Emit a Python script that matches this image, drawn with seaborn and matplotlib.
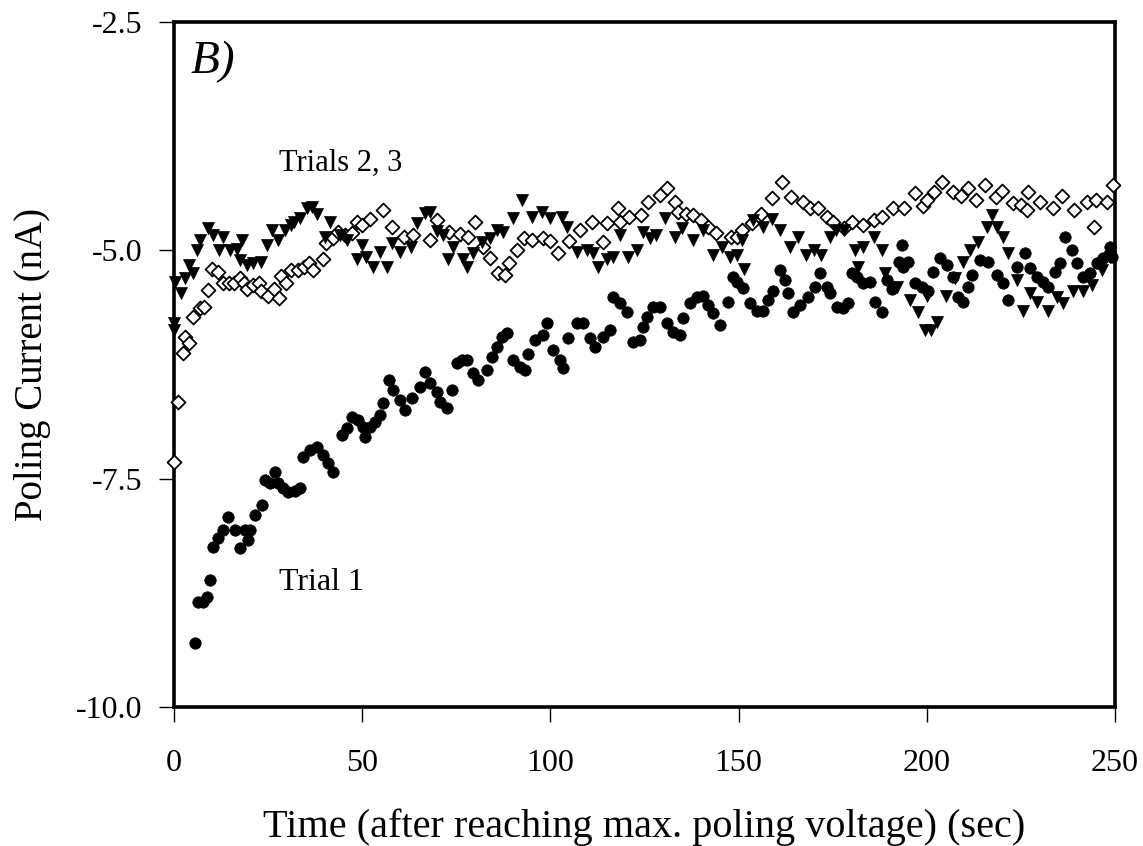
import matplotlib
matplotlib.use("Agg")
import matplotlib.pyplot as plt
import seaborn as sns
import pandas as pd

# Trial 1 (filled circles)
t1 = [5.6, 6.4, 7.8, 8.7, 9.6, 10.4, 11.8, 13.0, 14.3, 16.2, 17.6, 18.9, 19.7, 20.2, 21.5,
      23.3, 24.2, 25.5, 26.8, 27.7, 29.0, 30.3, 32.1, 33.5, 34.3, 36.1, 37.9, 39.6, 41.0,
      42.2, 44.6, 46.0, 47.3, 48.8, 50.2, 50.7, 52.0, 53.4, 54.7, 55.5, 57.0, 58.2, 60.0,
      61.4, 63.2, 65.4, 66.7, 68.0, 69.8, 70.7, 72.5, 73.9, 75.2, 76.5, 77.8, 79.4, 80.8,
      83.1, 84.5, 85.8, 87.1, 88.4, 90.0, 91.9, 93.2, 94.0, 95.9, 98.0, 99.0, 100.7, 102.5,
      103.4, 104.8, 107.0, 108.7, 110.5, 111.8, 114.0, 115.8, 116.7, 118.5, 120.3, 122.0,
      123.8, 124.6, 125.6, 127.3, 129.0, 131.0, 132.7, 134.4, 135.3, 137.0, 139.0, 140.6,
      142.0, 143.2, 145.0, 147.2, 148.5, 149.6, 151.2, 153.0, 154.9, 156.5, 157.8, 159.2,
      161.0, 162.3, 163.1, 164.5, 166.3, 168.4, 170.3, 171.6, 173.5, 174.3, 176.1, 177.8,
      179.0, 180.1, 181.4, 183.0, 185.0, 186.2, 188.0, 189.4, 190.8, 192.5, 193.4, 193.7,
      195.0, 196.9, 198.6, 200.4, 201.7, 203.5, 205.3, 207.0, 208.3, 209.6, 211.0, 212.0,
      214.1, 216.3, 218.6, 220.3, 221.7, 224.0, 226.0, 227.4, 229.2, 230.9, 232.2, 234.0,
      235.4, 236.7, 238.6, 239.9, 241.5, 243.4, 245.2, 246.8, 248.7, 249.2]
i1 = [-9.30, -8.85, -8.85, -8.80, -8.61, -8.25, -8.15, -8.06, -7.92, -8.06, -8.26, -8.06, -8.17, -8.06, -7.90,
      -7.79, -7.52, -7.55, -7.43, -7.55, -7.60, -7.65, -7.63, -7.60, -7.26, -7.19, -7.15, -7.24, -7.33,
      -7.43, -7.02, -6.95, -6.82, -6.86, -6.93, -7.04, -6.93, -6.88, -6.80, -6.67, -6.42, -6.53, -6.64,
      -6.75, -6.62, -6.50, -6.33, -6.45, -6.55, -6.66, -6.73, -6.53, -6.23, -6.20, -6.20, -6.34, -6.42,
      -6.31, -6.17, -6.06, -5.95, -5.90, -6.20, -6.28, -6.31, -6.13, -5.98, -5.93, -5.80, -6.09, -6.20,
      -6.29, -5.96, -5.80, -5.80, -5.96, -6.06, -5.95, -5.87, -5.51, -5.58, -5.68, -6.00,
      -5.98, -5.84, -5.73, -5.62, -5.62, -5.80, -5.89, -5.93, -5.74, -5.58, -5.51, -5.50,
      -5.60, -5.69, -5.82, -5.57, -5.29, -5.35, -5.41, -5.58, -5.66, -5.66, -5.54, -5.44,
      -5.22, -5.33, -5.47, -5.68, -5.60, -5.51, -5.40, -5.25, -5.40, -5.47, -5.62, -5.63,
      -5.58, -5.25, -5.29, -5.36, -5.35, -5.57, -5.68, -5.33, -5.42, -5.13, -4.94, -5.18,
      -5.13, -5.36, -5.40, -5.45, -5.24, -5.08, -5.16, -5.29, -5.51, -5.57, -5.40, -5.27,
      -5.11, -5.13, -5.27, -5.36, -5.54, -5.18, -5.03, -5.19, -5.29, -5.35, -5.40, -5.24,
      -5.14, -4.85, -5.00, -5.14, -5.29, -5.25, -5.14, -5.08, -4.96, -5.07]

# Trial 2 (filled down triangles)
t2 = [0.0, 0.0, 0.3, 2.0, 3.0, 4.0, 5.0, 6.0, 7.0, 9.0, 10.5, 12.0, 13.0, 15.0, 16.7, 17.5,
      18.0, 19.5, 21.0, 23.0, 24.7, 26.0, 27.6, 29.5, 31.0, 32.0, 33.5, 35.3, 36.6, 38.0,
      40.0, 41.5, 44.0, 46.0, 48.6, 50.0, 51.0, 53.0, 54.7, 56.5, 58.0, 60.0, 63.0, 64.5,
      66.7, 68.0, 70.0, 71.5, 72.8, 74.0, 76.8, 77.8, 79.4, 81.8, 84.0, 85.8, 87.5, 90.0,
      92.5, 95.0, 97.8, 100.0, 103.0, 104.4, 107.0, 109.7, 111.3, 112.7, 115.0, 116.7,
      118.5, 120.6, 123.0, 124.6, 126.5, 128.0, 130.4, 133.0, 135.0, 138.0, 140.5, 143.2,
      145.6, 147.7, 149.5, 151.0, 151.5, 153.8, 156.5, 159.0, 161.0, 163.7, 165.8, 168.0,
      170.0, 172.0, 174.3, 176.0, 178.0, 181.0, 181.7, 183.0, 186.0, 188.0, 189.0, 192.0,
      195.5, 197.7, 199.5, 200.0, 201.0, 202.7, 205.0, 207.5, 209.6, 211.5, 213.7, 216.0,
      217.3, 218.6, 220.3, 221.7, 224.0, 225.6, 227.4, 229.2, 232.2, 234.5, 236.2, 238.9,
      241.5, 244.0, 246.5, 248.7]
i2 = [-5.87, -5.80, -5.35, -5.47, -5.30, -5.16, -5.25, -5.00, -4.89, -4.76, -4.83, -5.00, -4.85, -5.00, -4.98, -5.11,
      -4.89, -5.16, -5.14, -5.13, -4.94, -4.78, -4.89, -4.78, -4.72, -4.69, -4.65, -4.54, -4.53, -4.60,
      -4.85, -4.69, -4.83, -4.89, -5.10, -4.94, -5.07, -5.18, -5.02, -5.18, -4.92, -5.02, -4.96, -4.70,
      -4.59, -4.58, -4.79, -4.83, -5.10, -4.96, -5.10, -5.18, -5.03, -4.91, -4.86, -4.78, -4.80, -4.65,
      -4.45, -4.64, -4.58, -4.65, -4.63, -4.74, -5.02, -5.00, -5.03, -5.18, -5.10, -5.07,
      -4.83, -5.07, -5.00, -4.80, -4.86, -4.83, -4.65, -4.85, -4.76, -4.89, -4.78, -5.05,
      -4.96, -5.07, -5.05, -4.89, -5.20, -4.67, -4.74, -4.66, -4.78, -4.96, -4.85, -5.05,
      -5.00, -5.05, -4.85, -4.78, -4.78, -5.00, -5.18, -4.96, -4.85, -5.00, -5.25, -5.40,
      -5.54, -5.68, -5.87, -5.50, -5.87, -5.78, -5.50, -5.30, -5.13, -5.00, -4.91, -4.74,
      -4.61, -4.75, -4.85, -5.03, -5.33, -5.66, -5.47, -5.57, -5.66, -5.51, -5.58, -5.44,
      -5.44, -5.38, -5.22, -5.07]

# Trial 3 (open diamonds)
t3 = [0.0, 1.0, 2.5, 3.0, 4.0, 5.0, 7.0, 8.0, 9.0, 10.0, 11.7, 13.0, 14.5, 16.0, 17.5, 18.5,
      19.5, 21.0, 22.5, 23.0, 25.0, 26.5, 27.8, 28.5, 29.8, 31.0, 33.0, 34.5, 35.8, 37.0,
      39.6, 40.5, 42.2, 43.5, 45.4, 47.3, 48.6, 50.0, 52.0, 55.5, 58.0, 61.0, 63.5, 68.0,
      70.0, 73.0, 76.0, 78.0, 80.0, 82.0, 84.0, 86.0, 88.0, 89.0, 91.0, 93.0, 95.0, 98.0,
      100.0, 102.0, 105.0, 108.0, 111.0, 114.0, 115.0, 118.0, 118.5, 121.0, 124.0, 126.0,
      129.0, 131.0, 133.0, 134.0, 136.0, 138.0, 140.0, 142.0, 144.0, 148.0, 149.5, 151.0,
      153.5, 156.0, 159.0, 161.5, 164.0, 167.0, 169.0, 171.0, 173.5, 175.0, 178.0, 180.0,
      183.0, 186.0, 188.0, 191.0, 194.0, 197.0, 199.0, 200.0, 202.0, 204.0, 207.0, 209.0,
      211.0, 213.0, 215.5, 218.5, 220.0, 223.0, 225.0, 226.5, 227.0, 230.0, 233.5, 236.0,
      239.0, 242.5, 244.5, 245.0, 248.0, 249.5]
i3 = [-7.32, -6.66, -6.12, -5.95, -6.02, -5.73, -5.63, -5.62, -5.43, -5.20, -5.24, -5.36, -5.36, -5.36, -5.30, -5.36,
      -5.42, -5.38, -5.36, -5.45, -5.50, -5.42, -5.52, -5.28, -5.36, -5.22, -5.22, -5.18, -5.14, -5.22,
      -5.10, -4.92, -4.87, -4.80, -4.83, -4.81, -4.69, -4.72, -4.66, -4.56, -4.74, -4.85, -4.83, -4.89,
      -4.67, -4.80, -4.82, -4.85, -4.69, -4.96, -5.08, -5.25, -5.27, -5.14, -5.00, -4.87, -4.89, -4.87,
      -4.90, -5.03, -4.90, -4.78, -4.69, -4.91, -4.70, -4.54, -4.69, -4.63, -4.61, -4.47,
      -4.39, -4.32, -4.47, -4.58, -4.60, -4.61, -4.67, -4.74, -4.81, -4.85, -4.85, -4.78,
      -4.70, -4.60, -4.43, -4.25, -4.42, -4.47, -4.54, -4.54, -4.63, -4.69, -4.76, -4.69,
      -4.72, -4.67, -4.63, -4.54, -4.54, -4.37, -4.52, -4.45, -4.36, -4.25, -4.36, -4.40,
      -4.32, -4.45, -4.28, -4.42, -4.35, -4.48, -4.50, -4.56, -4.36, -4.47, -4.54, -4.40,
      -4.56, -4.47, -4.74, -4.45, -4.47, -4.28]

x_ticks = [0, 50, 100, 150, 200, 250]
y_ticks = [-2.5, -5.0, -7.5, -10.0]
y_tick_labels = ["-2.5", "-5.0", "-7.5", "-10.0"]

sns.set_style("ticks")
plt.rcParams['font.family'] = ['Liberation Serif', 'DejaVu Serif']
plt.rcParams['text.color'] = 'black'
plt.rcParams['axes.labelcolor'] = 'black'

fig = plt.figure(figsize=(11.43, 8.46), dpi=100)
ax = fig.add_axes([0.1522, 0.1643, 0.8233, 0.8097])

df1 = pd.DataFrame({"t": t1, "i": i1})
df2 = pd.DataFrame({"t": t2, "i": i2})
df3 = pd.DataFrame({"t": t3, "i": i3})

sns.scatterplot(data=df3, x="t", y="i", ax=ax, marker="D", s=50, facecolor="white",
                edgecolor="black", linewidth=1.3, zorder=3, clip_on=False)
sns.scatterplot(data=df2, x="t", y="i", ax=ax, marker="v", s=75, color="black",
                edgecolor="black", linewidth=0.5, zorder=4, clip_on=False)
sns.scatterplot(data=df1, x="t", y="i", ax=ax, marker="o", s=68, color="black",
                edgecolor="black", linewidth=0.5, zorder=5, clip_on=False)

ax.set_xlim(0, 250)
ax.set_ylim(-10, -2.5)
ax.set_xticks(x_ticks)
ax.set_yticks(y_ticks)
ax.set_yticklabels(y_tick_labels)
ax.tick_params(axis="both", direction="out", length=11, width=1, labelsize=23,
               color="black", labelcolor="black", bottom=True, left=True)
ax.tick_params(axis="y", pad=12)
ax.tick_params(axis="x", pad=19)
for sp in ax.spines.values():
    sp.set_visible(True)
    sp.set_linewidth(2.6)
    sp.set_color("black")

ax.set_xlabel("Time (after reaching max. poling voltage) (sec)", fontsize=29, labelpad=22,
              color="black")
ax.set_ylabel("Poling Current (nA)", fontsize=28, labelpad=18, color="black")

ax.text(4.5, -2.70, "B)", fontsize=34, style="italic", va="top", ha="left", color="black")
ax.text(28, -4.05, "Trials 2, 3", fontsize=22, va="center", ha="left", color="black")
ax.text(28, -8.64, "Trial 1", fontsize=23, va="center", ha="left", color="black")

fig.savefig("out.png", dpi=100, facecolor="white")
